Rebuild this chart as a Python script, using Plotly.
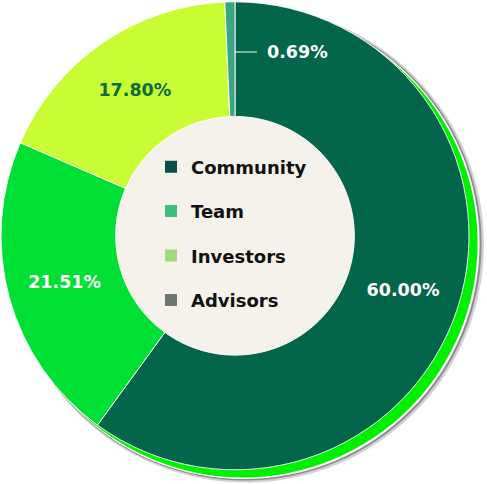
import plotly.graph_objects as go

# ---- data ----
categories = ["Community", "Team", "Investors", "Advisors"]
shares = [60.00, 21.51, 17.80, 0.69]
slice_colors = ["#03654a", "#00e034", "#c9fd33", "#3aa683"]
legend_colors = ["#0b4e4a", "#3cbf7b", "#9fdc7b", "#6e746f"]
label_colors = ["#ffffff", "#ffffff", "#0e6c3b", "#ffffff"]

W, H = 487, 484
CX, CY, R = 235, 235.8, 234.0
FONT = "DejaVu Sans"


def dom(cx, cy, r):
    return dict(x=[(cx - r) / W, (cx + r) / W], y=[(H - cy - r) / H, (H - cy + r) / H])


fig = go.Figure()

# decorative backing discs (shadow + offset ring + cream centre)
for cx, cy, r, col in [
    (246.0, 244.5, 238.0, "#d2d2d2"),
    (245.0, 244.0, 236.6, "#8c8c8c"),
    (244.0, 243.5, 235.6, "#ffffff"),
    (243.0, 242.8, 234.6, "#00f000"),
    (CX, CY, 125.0, "#f5f2ec"),
]:
    fig.add_trace(go.Pie(values=[1], marker=dict(colors=[col]), textinfo="none",
                         hoverinfo="skip", showlegend=False, sort=False,
                         domain=dom(cx, cy, r)))

texts = [f"{v:.2f}%" for v in shares]
inside = [t if v >= 5 else "" for t, v in zip(texts, shares)]

fig.add_trace(go.Pie(
    labels=categories, values=shares, sort=False, direction="clockwise", rotation=0,
    hole=0.51, marker=dict(colors=slice_colors, line=dict(color="#ffffff", width=0.9)),
    text=inside, texttemplate="%{text}", textposition="inside",
    insidetextorientation="horizontal",
    textfont=dict(family=FONT, size=17.5, color=label_colors, weight="bold"),
    showlegend=False, domain=dom(CX, CY, R), hoverinfo="label+percent"))

# small-slice callout
for t, v in zip(texts, shares):
    if v < 5:
        fig.add_annotation(x=CX / W, y=1 - 52 / H, xref="paper", yref="paper",
                           text=t, showarrow=True, arrowhead=0, arrowwidth=1.2,
                           arrowcolor="#ffffff", ax=62, ay=0, startstandoff=8,
                           font=dict(family=FONT, size=17.5, color="#ffffff", weight="bold"))

# legend entries
for name, col in zip(categories, legend_colors):
    fig.add_trace(go.Scatter(x=[None], y=[None], mode="markers", name=name,
                             legendgroup=name,
                             marker=dict(symbol="square", size=12, color=col)))

fig.update_layout(
    width=W, height=H, margin=dict(l=0, r=0, t=0, b=0),
    paper_bgcolor="#ffffff", plot_bgcolor="rgba(0,0,0,0)",
    xaxis=dict(visible=False), yaxis=dict(visible=False),
    legend=dict(x=151 / W, xanchor="left", y=1 - 233.5 / H, yanchor="middle",
                bgcolor="rgba(0,0,0,0)", tracegroupgap=18,
                font=dict(family=FONT, size=18, color="#111111", weight="bold")),
)

fig.write_html("out.html")
